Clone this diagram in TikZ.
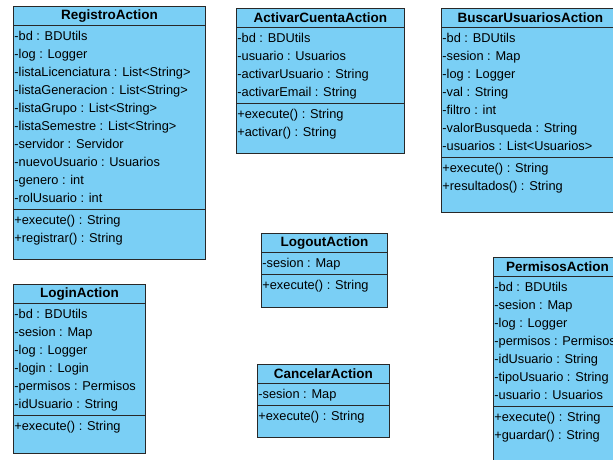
\documentclass[tikz,border=0pt]{standalone}
\usepackage{fontspec}
\setmainfont{Liberation Sans}
\usetikzlibrary{positioning}
\definecolor{clsblue}{RGB}{122,207,245}
\definecolor{clsline}{RGB}{40,40,40}
\newcommand{\umlrow}[1]{\strut#1}
\tikzset{
  cls/.style={draw=clsline, fill=clsblue, line width=0.8pt, anchor=north west, inner sep=0pt},
  clsname/.style={font=\fontsize{13.5}{15}\selectfont\bfseries, minimum height=19pt, inner sep=0pt, anchor=north},
  members/.style={font=\fontsize{12.8}{18}\selectfont, align=left, anchor=north west, inner xsep=1.2pt, inner ysep=2pt},
  sep/.style={draw=clsline, line width=0.8pt}
}
\begin{document}
\begin{tikzpicture}[x=1pt, y=-1pt]
  \useasboundingbox (0,0) rectangle (613,459);
  \clip (0,0) rectangle (613,459);

  % RegistroAction
  \node [cls, minimum width=192pt, minimum height=253pt] (registro) at (13,6) {};
  \node [clsname] (registroName) at (registro.north) {RegistroAction};
  \draw [sep] (registro.west |- registroName.south) -- (registro.east |- registroName.south);
  \node [members] (registroAttr) at (registro.west |- registroName.south) {%
    \umlrow{-bd : BDUtils}\\ \umlrow{-log : Logger}\\
    \umlrow{-listaLicenciatura : List<String>}\\ \umlrow{-listaGeneracion : List<String>}\\
    \umlrow{-listaGrupo : List<String>}\\ \umlrow{-listaSemestre : List<String>}\\
    \umlrow{-servidor : Servidor}\\ \umlrow{-nuevoUsuario : Usuarios}\\
    \umlrow{-genero : int}\\ \umlrow{-rolUsuario : int}};
  \draw [sep] (registro.west |- registroAttr.south) -- (registro.east |- registroAttr.south);
  \node [members] (registroOps) at (registro.west |- registroAttr.south) {%
    \umlrow{+execute() : String}\\ \umlrow{+registrar() : String}};

  % ActivarCuentaAction
  \node [cls, minimum width=168pt, minimum height=145pt] (activar) at (236,8) {};
  \node [clsname] (activarName) at (activar.north) {ActivarCuentaAction};
  \draw [sep] (activar.west |- activarName.south) -- (activar.east |- activarName.south);
  \node [members] (activarAttr) at (activar.west |- activarName.south) {%
    \umlrow{-bd : BDUtils}\\ \umlrow{-usuario : Usuarios}\\
    \umlrow{-activarUsuario : String}\\ \umlrow{-activarEmail : String}};
  \draw [sep] (activar.west |- activarAttr.south) -- (activar.east |- activarAttr.south);
  \node [members] (activarOps) at (activar.west |- activarAttr.south) {%
    \umlrow{+execute() : String}\\ \umlrow{+activar() : String}};

  % BuscarUsuariosAction
  \node [cls, minimum width=178pt, minimum height=204pt] (buscar) at (441,8) {};
  \node [clsname] (buscarName) at (buscar.north) {BuscarUsuariosAction};
  \draw [sep] (buscar.west |- buscarName.south) -- (buscar.east |- buscarName.south);
  \node [members] (buscarAttr) at (buscar.west |- buscarName.south) {%
    \umlrow{-bd : BDUtils}\\ \umlrow{-sesion : Map}\\ \umlrow{-log : Logger}\\
    \umlrow{-val : String}\\ \umlrow{-filtro : int}\\
    \umlrow{-valorBusqueda : String}\\ \umlrow{-usuarios : List<Usuarios>}};
  \draw [sep] (buscar.west |- buscarAttr.south) -- (buscar.east |- buscarAttr.south);
  \node [members] (buscarOps) at (buscar.west |- buscarAttr.south) {%
    \umlrow{+execute() : String}\\ \umlrow{+resultados() : String}};

  % LoginAction
  \node [cls, minimum width=132pt, minimum height=169pt] (login) at (13,284) {};
  \node [clsname] (loginName) at (login.north) {LoginAction};
  \draw [sep] (login.west |- loginName.south) -- (login.east |- loginName.south);
  \node [members] (loginAttr) at (login.west |- loginName.south) {%
    \umlrow{-bd : BDUtils}\\ \umlrow{-sesion : Map}\\ \umlrow{-log : Logger}\\
    \umlrow{-login : Login}\\ \umlrow{-permisos : Permisos}\\ \umlrow{-idUsuario : String}};
  \draw [sep] (login.west |- loginAttr.south) -- (login.east |- loginAttr.south);
  \node [members] (loginOps) at (login.west |- loginAttr.south) {%
    \umlrow{+execute() : String}};

  % LogoutAction
  \node [cls, minimum width=126pt, minimum height=74pt] (logout) at (261,233) {};
  \node [clsname] (logoutName) at (logout.north) {LogoutAction};
  \draw [sep] (logout.west |- logoutName.south) -- (logout.east |- logoutName.south);
  \node [members] (logoutAttr) at (logout.west |- logoutName.south) {%
    \umlrow{-sesion : Map}};
  \draw [sep] (logout.west |- logoutAttr.south) -- (logout.east |- logoutAttr.south);
  \node [members] (logoutOps) at (logout.west |- logoutAttr.south) {%
    \umlrow{+execute() : String}};

  % CancelarAction
  \node [cls, minimum width=132pt, minimum height=73pt] (cancelar) at (257,364) {};
  \node [clsname] (cancelarName) at (cancelar.north) {CancelarAction};
  \draw [sep] (cancelar.west |- cancelarName.south) -- (cancelar.east |- cancelarName.south);
  \node [members] (cancelarAttr) at (cancelar.west |- cancelarName.south) {%
    \umlrow{-sesion : Map}};
  \draw [sep] (cancelar.west |- cancelarAttr.south) -- (cancelar.east |- cancelarAttr.south);
  \node [members] (cancelarOps) at (cancelar.west |- cancelarAttr.south) {%
    \umlrow{+execute() : String}};

  % PermisosAction
  \node [cls, minimum width=128pt, minimum height=215pt] (permisos) at (493,257) {};
  \node [clsname] (permisosName) at (permisos.north) {PermisosAction};
  \draw [sep] (permisos.west |- permisosName.south) -- (permisos.east |- permisosName.south);
  \node [members] (permisosAttr) at (permisos.west |- permisosName.south) {%
    \umlrow{-bd : BDUtils}\\ \umlrow{-sesion : Map}\\ \umlrow{-log : Logger}\\
    \umlrow{-permisos : Permisos}\\ \umlrow{-idUsuario : String}\\
    \umlrow{-tipoUsuario : String}\\ \umlrow{-usuario : Usuarios}};
  \draw [sep] (permisos.west |- permisosAttr.south) -- (permisos.east |- permisosAttr.south);
  \node [members] (permisosOps) at (permisos.west |- permisosAttr.south) {%
    \umlrow{+execute() : String}\\ \umlrow{+guardar() : String}};
\end{tikzpicture}
\end{document}
